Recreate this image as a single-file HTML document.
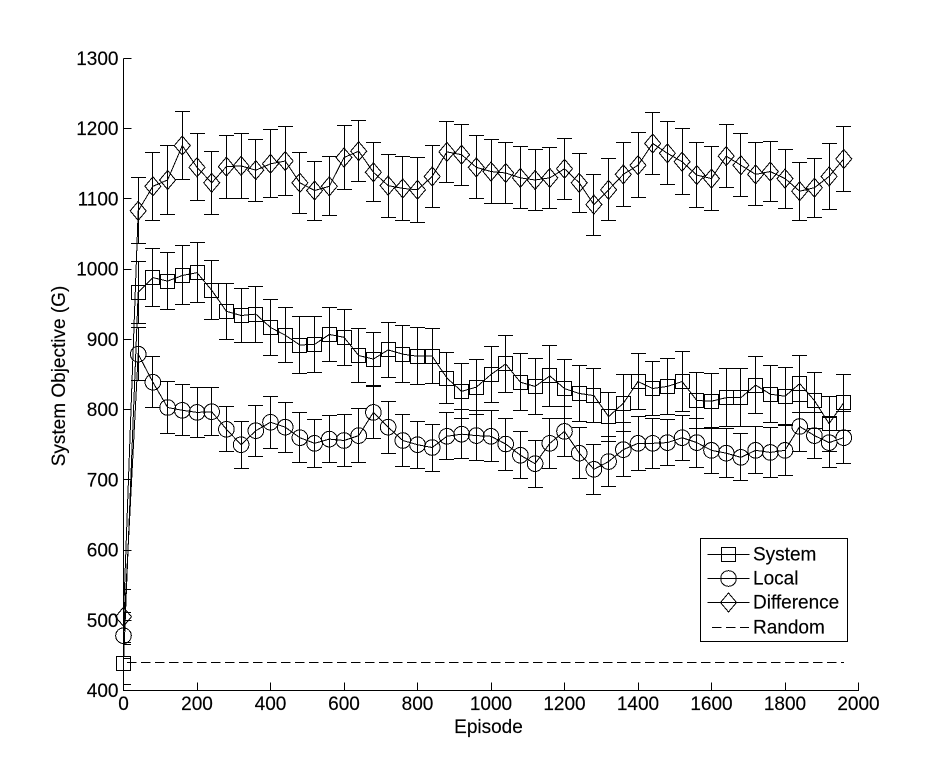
<!DOCTYPE html>
<html>
<head>
<meta charset="utf-8">
<title>System Objective vs Episode</title>
<style>
html,body{margin:0;padding:0;background:#fff;}
svg{display:block;}
text{font-family:"Liberation Sans",Arial,sans-serif;fill:#000;font-size:19px;stroke:#000;stroke-width:0.15px;}
.crisp{shape-rendering:crispEdges;}
</style>
</head>
<body>
<svg id="chart" xmlns="http://www.w3.org/2000/svg" width="948" height="775" viewBox="0 0 948 775">
<rect x="0" y="0" width="948" height="775" fill="#fff"/>
<defs><clipPath id="plot-clip"><rect x="123" y="40" width="760" height="651"/></clipPath></defs>
<g id="plot-series"></g>
<g id="axes"></g>
<text x="488.5" y="733" text-anchor="middle">Episode</text>
<text transform="translate(65,376) rotate(-90)" text-anchor="middle">System Objective (G)</text>
<g id="legend"></g>
</svg>
<script>
const xTicks = [0,200,400,600,800,1000,1200,1400,1600,1800,2000];
const yTicks = [400,500,600,700,800,900,1000,1100,1200,1300];
const episodes = [0,40,80,120,160,200,240,280,320,360,400,440,480,520,560,600,640,680,720,760,800,840,880,920,960,1000,1040,1080,1120,1160,1200,1240,1280,1320,1360,1400,1440,1480,1520,1560,1600,1640,1680,1720,1760,1800,1840,1880,1920,1960];
const systemValues = [438,967,988,983,991,995,970,940,934,936,917,906,892,893,907,903,877,872,885,879,876,876,845,826,832,850,865,839,833,848,830,823,820,790,809,840,830,833,840,813,812,817,817,835,822,819,837,813,780,810];
const systemErrors = [30,44,41,41,42,43,42,40,39,40,40,39,40,40,39,40,39,38,39,40.5,40.5,39,36,39,39,40.5,40.5,40.5,40,43,42,40,39,35,40.5,40.5,39,40,43,40,39,41,41,40.5,40.5,40.5,40.5,40,39,40];
const localValues = [478,879,839,803,799,796,797,772,750,770,782,775,760,752,758,756,763,796,775,756,750,746,762,765,763,762,751,735,723,752,769,738,715,726,743,752,752,753,760,753,742,738,732,742,739,742,776,763,753,760];
const localErrors = [33,38,36.4,37,36.4,35.7,34,32,33.5,36.4,37,35.7,35.7,34,34,37,38,37,37,36.4,33.5,33.5,33.5,35,36,36.4,37,33.5,33.5,35.7,35.7,36.4,35.7,35,38,38,36,33,32,35,33,35,33.5,33.5,35,36,35,33,36,37];
const differenceValues = [505,1083,1118,1127,1176,1145,1123,1146,1147,1141,1150,1154,1123,1112,1118,1159,1168,1138,1119,1115,1113,1132,1167,1163,1145,1139,1137,1130,1127,1130,1143,1123,1092,1113,1135,1148,1179,1165,1153,1134,1129,1161,1148,1135,1139,1129,1111,1116,1132,1157];
const differenceErrors = [39,47,48,49,48.5,47.5,45,45,46,44,48.5,49,43.5,42,42,45,43.5,42,45,46,46,43.5,43,43.5,45,45,44,44,43.5,43,43.5,42,43.5,44,46,46.5,44,45,47,46.5,45,45,45,45,43,42,41.5,42,46.5,45.7];
const randomValues = [440,440,440,440,440,440,440,440,440,440,440,440,440,440,440,440,440,440,440,440,440,440,440,440,440,440,440,440,440,440,440,440,440,440,440,440,440,440,440,440,440,440,440,440,440,440,440,440,440,440];

const NS = 'http://www.w3.org/2000/svg';
const xScale = v => 123.5 + v * 735 / 2000;
const yScale = v => 690.5 - (v - 400) * 632 / 900;
const snap = v => Math.floor(v) + 0.5;

function mk(tag, parent, attrs) {
  const el = document.createElementNS(NS, tag);
  for (const k in attrs) el.setAttribute(k, attrs[k]);
  parent.appendChild(el);
  return el;
}
const STROKE = {stroke:'#000','stroke-width':1,fill:'none'};
function seg(parent, x1, y1, x2, y2, extra) {
  return mk('line', parent, Object.assign({x1, y1, x2, y2, class:'crisp'}, STROKE, extra || {}));
}
function markerAt(parent, kind, x, y) {
  if (kind === 'square') return mk('rect', parent, Object.assign({x:snap(x-7), y:snap(y-7), width:14, height:14, class:'crisp'}, STROKE));
  if (kind === 'circle') return mk('circle', parent, Object.assign({cx:x, cy:y, r:7.8, class:'crisp'}, STROKE));
  return mk('polygon', parent, Object.assign({points:`${x},${y-9.5} ${x+8},${y} ${x},${y+9.5} ${x-8},${y}`, class:'crisp'}, STROKE));
}

const plot = document.getElementById('plot-series');
const axes = document.getElementById('axes');
const legend = document.getElementById('legend');

function drawSeries(name, kind, values, errors) {
  const group = mk('g', plot, {});
  
  
  const clipped = mk('g', group, {'clip-path':'url(#plot-clip)'});
  
  
  episodes.forEach((ep, i) => {
    const x = snap(xScale(ep)), top = snap(yScale(values[i] + errors[i])), bottom = snap(yScale(values[i] - errors[i]));
    const bar = seg(clipped, x, top, x, bottom);
    
    
    const capTop = seg(clipped, x - 7.5, top, x + 7.5, top);
    
    
    const capBottom = seg(clipped, x - 7.5, bottom, x + 7.5, bottom);
    
    
  });
  const line = mk('polyline', group, Object.assign({points: episodes.map((ep, i) => xScale(ep) + ',' + yScale(values[i])).join(' '), class:'crisp'}, STROKE));
  
  
  episodes.forEach((ep, i) => {
    const m = markerAt(group, kind, xScale(ep), yScale(values[i]));
    
    
  });
}
drawSeries('system', 'square', systemValues, systemErrors);
drawSeries('local', 'circle', localValues, localErrors);
drawSeries('difference', 'diamond', differenceValues, differenceErrors);

const randomLine = mk('polyline', plot, Object.assign({points: episodes.map((ep, i) => xScale(ep) + ',' + snap(yScale(randomValues[i]))).join(' '), 'stroke-dasharray':'9.7 4.3', 'stroke-dashoffset':'10.5', class:'crisp'}, STROKE));



const yAxisLine = seg(axes, 123.5, snap(yScale(1300)), 123.5, snap(yScale(400)) + 0.5);


const xAxisLine = seg(axes, 123, snap(yScale(400)), snap(xScale(2000)) + 0.5, snap(yScale(400)));



xTicks.forEach(t => {
  const x = xScale(t);
  const tick = seg(axes, snap(x), 690.5, snap(x), 682.5);
  
  
  const label = mk('text', axes, {x: x, y: 710, 'text-anchor':'middle'});
  label.textContent = String(t);
  
  
});
yTicks.forEach(t => {
  const y = yScale(t);
  const tick = seg(axes, 123.5, snap(y), 131.5, snap(y));
  
  
  const label = mk('text', axes, {x: 118.5, y: y + 6.5, 'text-anchor':'end'});
  label.textContent = String(t);
  
  
});

const legendBox = mk('rect', legend, {x:700.5, y:538.5, width:147, height:103, fill:'#fff', stroke:'#000', 'stroke-width':1, class:'crisp'});


const legendLabels = ['System','Local','Difference','Random'];
const legendKinds = ['square','circle','diamond','dash'];
legendLabels.forEach((name, i) => {
  const rowY = [554.5, 578.5, 602.5, 627.5][i];
  const row = mk('g', legend, {});
  
  
  if (legendKinds[i] === 'dash') {
    const dash = seg(row, 712, rowY, 749, rowY, {'stroke-dasharray':'9.7 4.3'});
    
    
  } else {
    const sample = seg(row, 707.5, rowY, 749.5, rowY);
    
    
    const marker = markerAt(row, legendKinds[i], 728.5, rowY);
    
    
  }
  const text = mk('text', row, {x: 753, y: rowY + 6});
  text.textContent = name;
  
  
});
</script>
</body>
</html>
